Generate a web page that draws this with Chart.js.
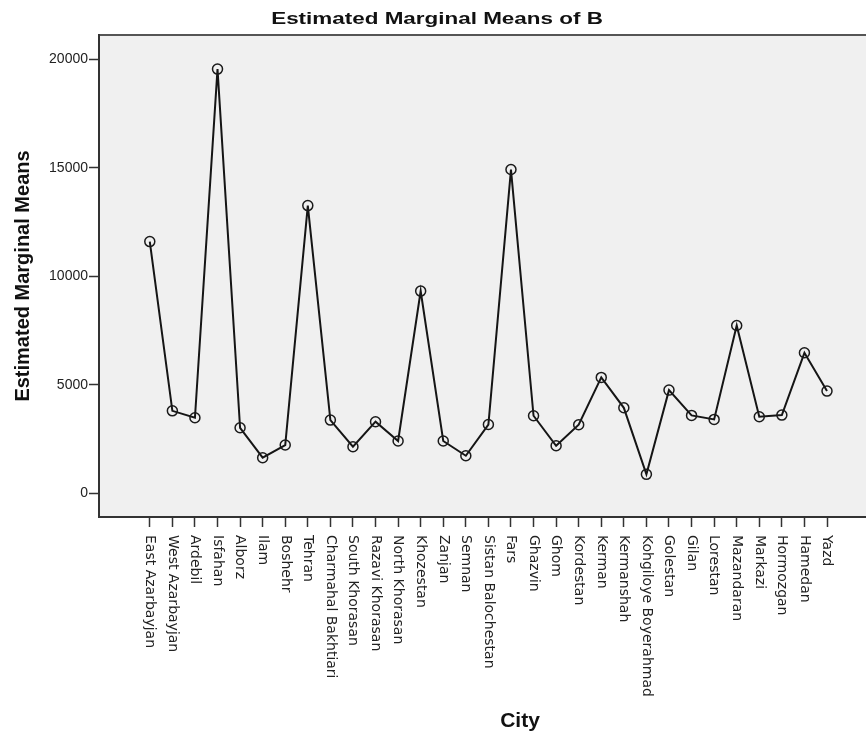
<!DOCTYPE html>
<html>
<head>
<meta charset="utf-8">
<script src="https://cdn.jsdelivr.net/npm/chart.js@4.4.0/dist/chart.umd.min.js"></script>
<style>
  html, body { margin: 0; padding: 0; background: #fff; overflow: hidden; }
  #wrap { width: 1040px; height: 738px; }
</style>
</head>
<body>
<div id="wrap"><canvas id="chart" width="1040" height="738"></canvas></div>
<script>
// data
const cities = ['East Azarbayjan','West Azarbayjan','Ardebil','Isfahan','Alborz','Ilam','Boshehr','Tehran',
  'Charmahal Bakhtiari','South Khorasan','Razavi Khorasan','North Khorasan','Khozestan','Zanjan','Semnan',
  'Sistan Balochestan','Fars','Ghazvin','Ghom','Kordestan','Kerman','Kermanshah','Kohgiloye Boyerahmad',
  'Golestan','Gilan','Lorestan','Mazandaran','Markazi','Hormozgan','Hamedan','Yazd'];
const means = [11600, 3800, 3480, 19550, 3020, 1640, 2225, 13260,
  3375, 2145, 3300, 2410, 9320, 2410, 1730,
  3170, 14920, 3575, 2190, 3160, 5340, 3940, 875,
  4755, 3590, 3405, 7735, 3530, 3605, 6475, 4710];
const yTicks = [0, 5000, 10000, 15000, 20000];
const chartTitle = 'Estimated Marginal Means of B';

Chart.defaults.font.family = '"Liberation Sans", Arial, sans-serif';

// grey plot panel, stretched SPSS-style title, rotated city names (top to bottom)
const frame = {
  id: 'frame',
  beforeDraw(chart){
    const {ctx, chartArea: a} = chart;
    ctx.save();
    ctx.fillStyle = '#f0f0f0';
    ctx.fillRect(a.left, a.top, a.right - a.left, a.bottom - a.top);
    ctx.strokeStyle = '#555';
    ctx.lineWidth = 2;
    ctx.beginPath();
    ctx.moveTo(a.left, a.top); ctx.lineTo(a.right, a.top); ctx.lineTo(a.right, a.bottom);
    ctx.stroke();
    ctx.restore();
  },
  afterDraw(chart){
    const {ctx} = chart;
    const xs = chart.scales.x;
    ctx.save();
    ctx.font = '14px "DejaVu Sans", sans-serif';
    ctx.fillStyle = '#222';
    ctx.textAlign = 'left';
    ctx.textBaseline = 'middle';
    cities.forEach((c, i) => {
      ctx.save();
      ctx.translate(xs.getPixelForValue(i), xs.top + 18);
      ctx.rotate(Math.PI / 2);
      ctx.fillText(c, 0, 0);
      ctx.restore();
    });
    ctx.restore();

    ctx.save();
    ctx.translate(437, 19);
    ctx.scale(1.32, 1);
    ctx.font = 'bold 17px "Liberation Sans", Arial, sans-serif';
    ctx.fillStyle = '#111';
    ctx.textAlign = 'center';
    ctx.textBaseline = 'middle';
    ctx.fillText(chartTitle, 0, 0);
    ctx.restore();
  }
};

new Chart(document.getElementById('chart'), {
  type: 'line',
  data: {
    datasets: [{
      data: means.map((v, i) => ({x: i, y: v})),
      borderColor: '#151515',
      borderWidth: 2,
      tension: 0,
      pointRadius: 5,
      pointBorderWidth: 1.5,
      pointBorderColor: '#1a1a1a',
      pointBackgroundColor: 'rgba(0,0,0,0)'
    }]
  },
  options: {
    responsive: false,
    animation: false,
    devicePixelRatio: 1,
    layout: { padding: { top: 35, right: 99 } },
    plugins: {
      legend: { display: false },
      tooltip: { enabled: false },
      title: { display: false }
    },
    scales: {
      x: {
        type: 'linear',
        min: -2.25, max: 35.05,
        afterBuildTicks: s => { s.ticks = cities.map((_, i) => ({value: i})); },
        afterFit: s => { s.height = 221; },
        ticks: { display: false },
        grid: { display: true, drawOnChartArea: false, drawTicks: true, tickLength: 10, tickColor: '#333', tickWidth: 1.5 },
        border: { display: true, color: '#333', width: 2 },
        title: { display: true, text: 'City', color: '#111', font: { size: 21, weight: 'bold' }, padding: { top: 0, bottom: 4 } }
      },
      y: {
        min: -1092, max: 21120,
        afterBuildTicks: s => { s.ticks = yTicks.map(v => ({value: v})); },
        afterFit: s => { s.width = 99; },
        ticks: { color: '#222', font: { size: 14 }, padding: 1, callback: v => String(v) },
        grid: { display: true, drawOnChartArea: false, drawTicks: true, tickLength: 10, tickColor: '#333', tickWidth: 1.5 },
        border: { display: true, color: '#333', width: 2 },
        title: { display: true, text: 'Estimated Marginal Means', color: '#111', font: { size: 20, weight: 'bold' }, padding: { top: 11, bottom: 0 } }
      }
    }
  },
  plugins: [frame]
});
</script>
</body>
</html>
